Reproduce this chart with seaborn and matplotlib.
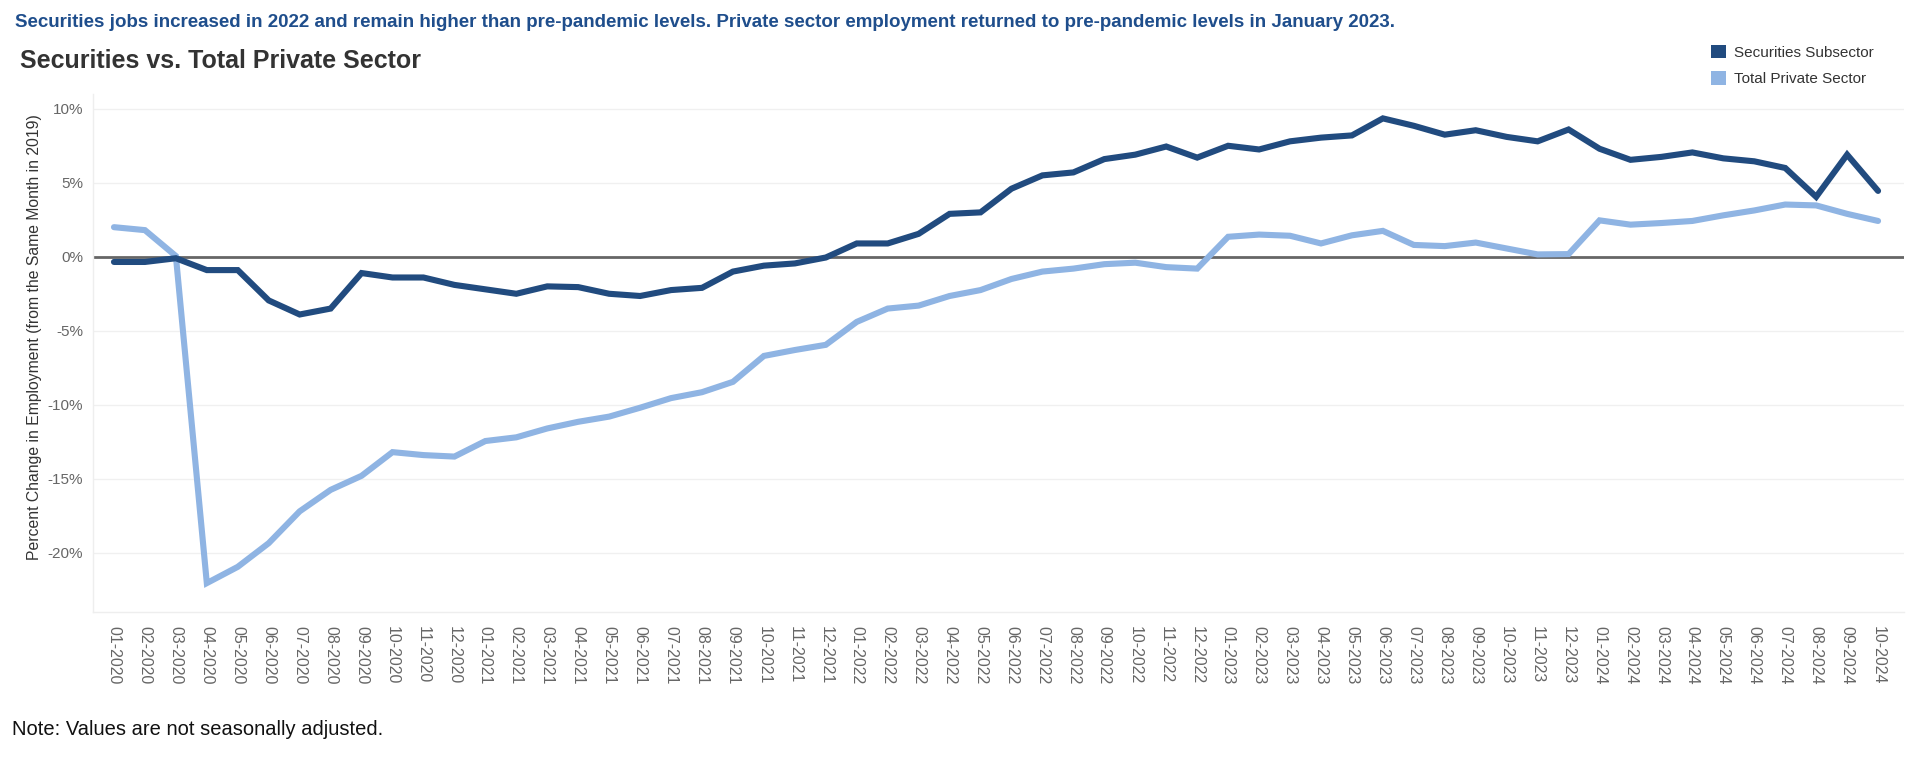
import pandas as pd
import matplotlib
matplotlib.use("Agg")
import matplotlib.pyplot as plt
from matplotlib.patches import Patch
from matplotlib.ticker import FuncFormatter
import seaborn as sns

# month labels, 01-2020 .. 10-2024
months = [f"{m:02d}-{y}" for y in range(2020, 2025) for m in range(1, 13)][:58]

securities = [
    -0.35, -0.35, -0.1, -0.9, -0.9, -2.95, -3.9, -3.5, -1.1, -1.4, -1.4, -1.9,
    -2.2, -2.5, -2.0, -2.05, -2.5, -2.65, -2.25, -2.1, -1.0, -0.6, -0.45, -0.05,
    0.9, 0.9, 1.55, 2.9, 3.0, 4.6, 5.5, 5.7, 6.6, 6.9, 7.45, 6.7,
    7.5, 7.25, 7.8, 8.05, 8.2, 9.35, 8.85, 8.25, 8.55, 8.1, 7.8, 8.6,
    7.3, 6.55, 6.75, 7.05, 6.65, 6.45, 6.0, 4.05, 6.9, 4.45,
]
private = [
    2.0, 1.8, 0.05, -22.05, -20.95, -19.35, -17.2, -15.75, -14.8, -13.2, -13.4, -13.5,
    -12.45, -12.2, -11.6, -11.15, -10.8, -10.2, -9.55, -9.15, -8.45, -6.7, -6.3, -5.95,
    -4.4, -3.5, -3.3, -2.65, -2.25, -1.5, -1.0, -0.8, -0.5, -0.4, -0.7, -0.8,
    1.35, 1.5, 1.42, 0.9, 1.45, 1.75, 0.8, 0.72, 0.96, 0.56, 0.16, 0.18,
    2.46, 2.17, 2.28, 2.42, 2.8, 3.13, 3.53, 3.47, 2.9, 2.42,
]
series_names = ["Securities Subsector", "Total Private Sector"]
colors = {"Securities Subsector": "#214b7f", "Total Private Sector": "#8fb4e3"}
y_ticks = [10, 5, 0, -5, -10, -15, -20]

df = pd.concat([
    pd.DataFrame({"idx": range(len(months)), "month": months, "series": series_names[0], "value": securities}),
    pd.DataFrame({"idx": range(len(months)), "month": months, "series": series_names[1], "value": private}),
])

sns.set_style("white")
plt.rcParams['font.family'] = ['Liberation Sans', 'DejaVu Sans']
plt.rcParams['axes.unicode_minus'] = False

fig = plt.figure(figsize=(19.2, 7.69), dpi=100)
ax = fig.add_axes([0.0484, 0.2042, 0.9433, 0.6736])

for y in y_ticks:
    ax.axhline(y, color="#f0f0f0", lw=1, zorder=0)
ax.axhline(0, color="#666666", lw=2, zorder=1)

sns.lineplot(data=df, x="idx", y="value", hue="series", palette=colors,
             hue_order=[series_names[1], series_names[0]],
             linewidth=4.4, sort=False, legend=False, ax=ax, zorder=3)
for ln in ax.get_lines():
    ln.set_solid_capstyle("round")
    ln.set_solid_joinstyle("miter")

ax.set_xlim(-0.68, 57.84)
ax.set_ylim(-24, 11)
ax.set_xticks(range(len(months)))
ax.set_xticklabels(months, rotation=270, fontsize=11.5, color="#666666")
ax.set_yticks(y_ticks)
ax.yaxis.set_major_formatter(FuncFormatter(lambda v, p: f"{v:.0f}%"))
ax.tick_params(axis="y", labelsize=11, labelcolor="#666666", length=3, color="#e6e6e6", pad=4)
ax.tick_params(axis="x", length=5, color="#e6e6e6", pad=5)
ax.set_xlabel("")
ax.set_ylabel("Percent Change in Employment (from the Same Month in 2019)", fontsize=11.3,
              color="#333333")
ax.yaxis.set_label_coords(-0.028, 0.53)
for s in ["top", "right"]:
    ax.spines[s].set_visible(False)
for s in ["left", "bottom"]:
    ax.spines[s].set_color("#eeeeee")
    ax.spines[s].set_linewidth(1)

fig.text(0.008, 0.971, "Securities jobs increased in 2022 and remain higher than pre-pandemic levels. "
         "Private sector employment returned to pre-pandemic levels in January 2023.",
         fontsize=13.5, fontweight="bold", color="#1f4e8c", va="center", ha="left")
fig.text(0.0105, 0.921, "Securities vs. Total Private Sector", fontsize=18, fontweight="bold",
         color="#333333", va="center", ha="left")
fig.text(0.006, 0.052, "Note: Values are not seasonally adjusted.", fontsize=14.5, color="#111111",
         va="center", ha="left")

handles = [Patch(facecolor=colors[n], edgecolor="none", label=n) for n in series_names]
fig.legend(handles=handles, loc="upper left", bbox_to_anchor=(0.888, 0.95), frameon=False,
           fontsize=11, labelcolor="#333333", handlelength=1.0, handleheight=1.0,
           handletextpad=0.5, labelspacing=0.75, borderaxespad=0)

fig.savefig("out.png", dpi=100)
